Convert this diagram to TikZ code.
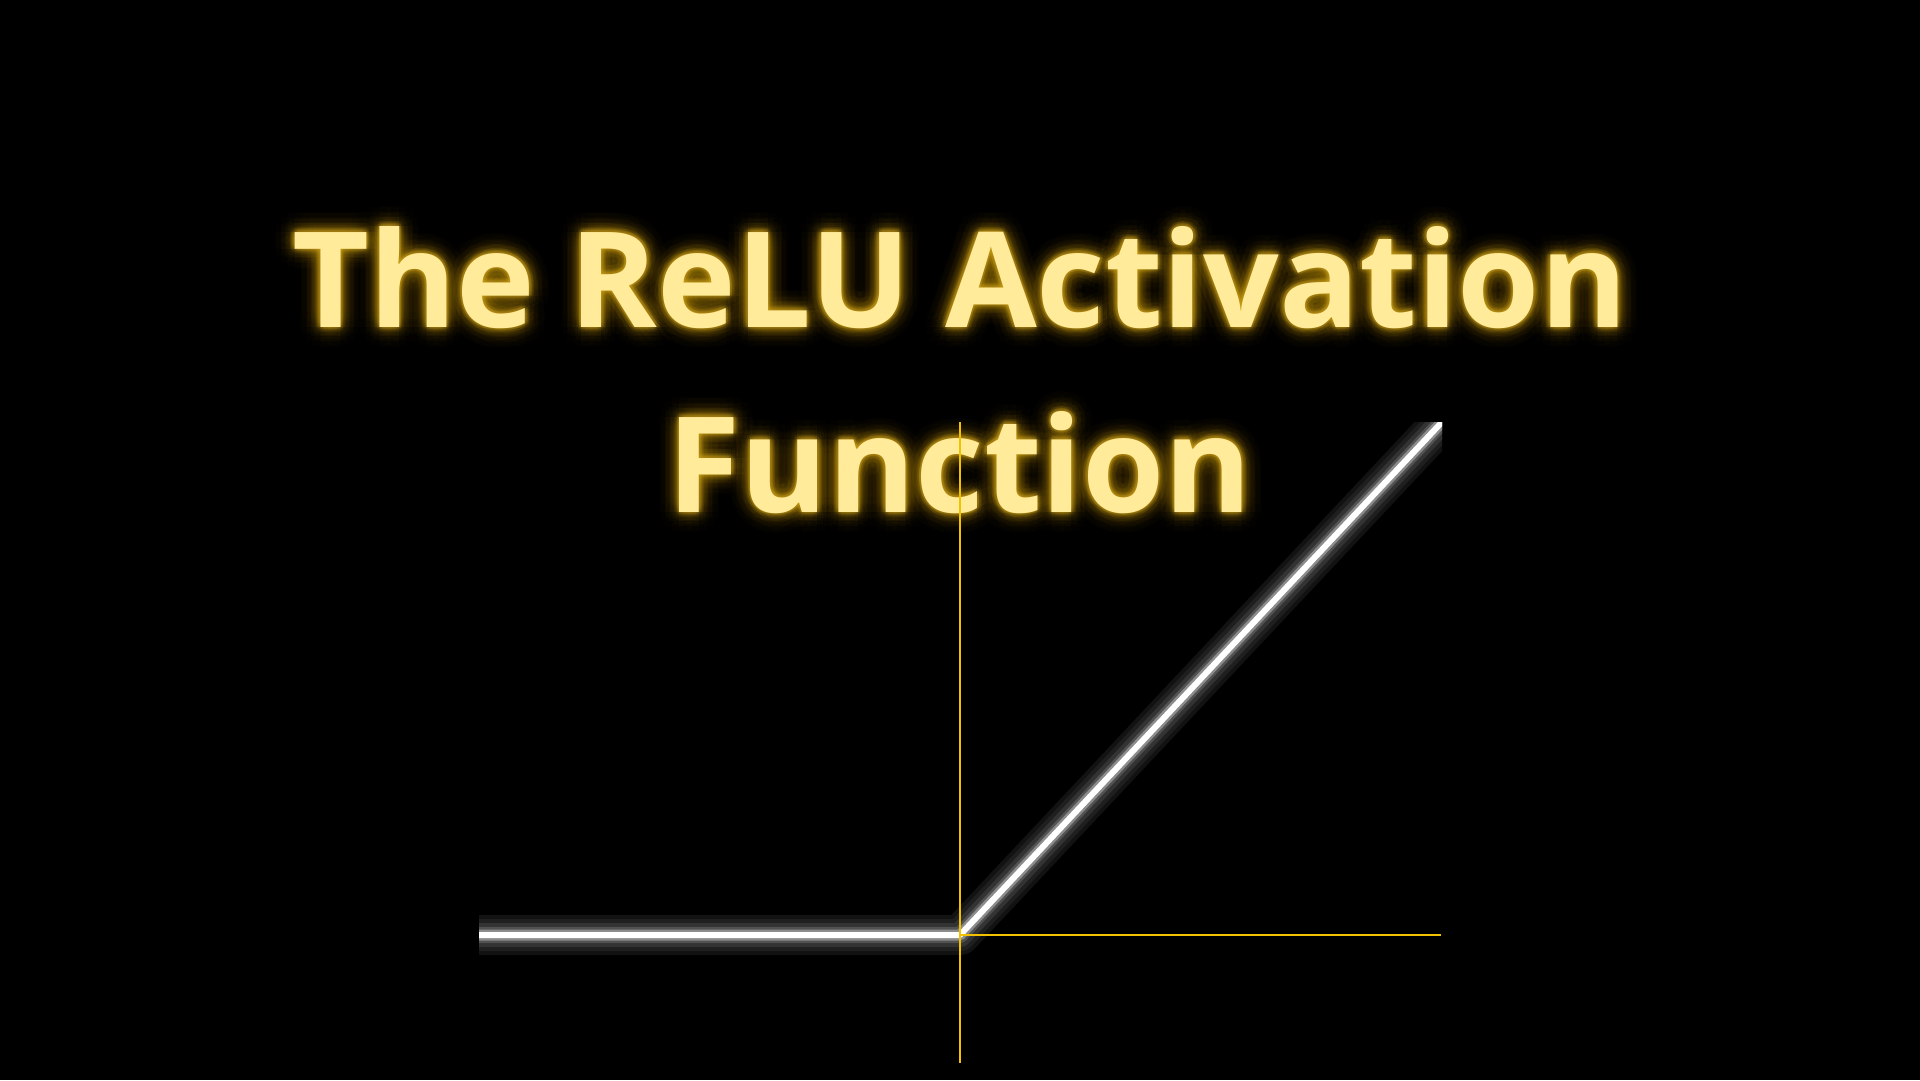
\documentclass[tikz,border=0pt]{standalone}
\usepackage{fontspec}
\setmainfont{Open Sans}
\usetikzlibrary{calc}
\definecolor{titlefill}{HTML}{FFEB99}
\definecolor{glowcol}{HTML}{E0B020}
\definecolor{axiscol}{HTML}{F2C200}
\begin{document}
\begin{tikzpicture}[x=1pt,y=-1pt,
  titletext/.style={font=\fontsize{133}{133}\selectfont\bfseries, text=titlefill, inner sep=0pt, anchor=base},
  glowtext/.style={titletext, text=glowcol, text opacity=#1},
  axisline/.style={draw=axiscol, line width=2pt}]
\fill[black] (0,0) rectangle (1920,1080);
\useasboundingbox (0,0) rectangle (1920,1080);
\coordinate (t1) at (960,327);
\coordinate (t2) at (960,512);
% glow of the title
\foreach \r/\o in {20/0.015, 14/0.022, 9/0.032, 5/0.05, 2.5/0.07}{
  \foreach \a in {0,22.5,...,337.5}{
    \node[glowtext=\o] at ($(t1)+(\a:\r)$) {The ReLU Activation};
    \node[glowtext=\o] at ($(t2)+(\a:\r)$) {Function};
  }
}
\node[titletext] (title1) at (t1) {The ReLU Activation};
\node[titletext] (title2) at (t2) {Function};
% the ReLU curve
\coordinate (L) at (479,935);
\coordinate (O) at (960,935);
\coordinate (R) at (1442,422);
\begin{scope}
  \clip (479,422) rectangle (1442,1000);
  \foreach \w/\c in {40/{black!93}, 32/{black!88}, 24/{black!80}, 16/{black!68}, 11/{black!45}, 6/white}{
    \draw[line width=\w pt, color=\c, line join=round] ($(L)+(-30,0)$) -- (O) -- ($(O)!1.08!(R)$);
  }
\end{scope}
% axes
\coordinate (ytop) at (960,422);
\coordinate (ybot) at (960,1063);
\coordinate (xend) at (1441,935);
\draw[axisline] (ytop) -- (ybot);
\draw[axisline] (O) -- (xend);
\end{tikzpicture}
\end{document}
